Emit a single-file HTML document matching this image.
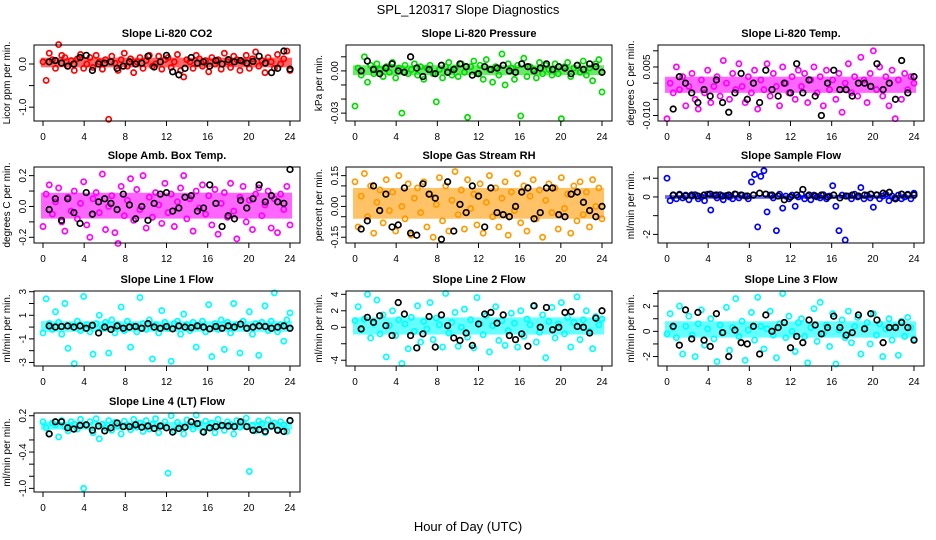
<!DOCTYPE html>
<html><head><meta charset="utf-8"><title>SPL_120317 Slope Diagnostics</title>
<style>
html,body{margin:0;padding:0;background:#fff;}
svg{display:block;font-family:"Liberation Sans",Arial,sans-serif;}
</style></head>
<body>
<svg id="chart" width="936" height="540" viewBox="0 0 936 540" xmlns="http://www.w3.org/2000/svg">
<rect x="0" y="0" width="936" height="540" fill="#fff"/>
<text x="468" y="14" text-anchor="middle" font-size="13">SPL_120317  Slope Diagnostics</text>
<text x="468" y="531" text-anchor="middle" font-size="13">Hour of Day (UTC)</text>
</svg>
<script>
const xTicks=[0,4,8,12,16,20,24];
const co2Vals=[0.05,-0.38,0.25,0.1,-0.1,0.45,0.2,0.15,-0.05,0.08,-0.15,0.12,0.22,-0.1,0.0,0.15,-0.08,0.2,0.05,-0.12,0.1,-1.28,0.18,0.02,-0.15,0.1,0.25,-0.05,0.12,-0.2,0.05,0.15,-0.1,0.08,0.2,-0.05,0.0,0.18,-0.12,0.1,0.15,-0.08,0.05,0.22,-0.15,-0.3,0.1,0.05,-0.1,0.2,0.12,-0.05,0.08,-0.18,0.15,0.0,0.1,-0.12,0.25,0.05,-0.08,0.18,0.1,-0.15,0.05,0.2,-0.1,0.12,0.28,-0.05,0.08,-0.2,0.15,0.05,-0.1,0.22,0.0,0.12,0.3,-0.15];
const co2Black=[0.05,0.08,0.02,-0.05,0.0,0.15,0.2,-0.15,0.0,0.02,0.05,-0.1,-0.05,0.05,0.0,0.02,0.18,-0.07,0.05,0.2,-0.18,-0.25,-0.1,0.15,0.02,0.05,-0.05,0.08,0.0,0.1,0.05,0.08,0.02,0.06,0.18,0.02,-0.2,-0.1,0.3,-0.12];
const presVals=[-0.025,0.002,-0.003,0.01,-0.008,0.004,-0.002,0.005,0.001,-0.004,0.003,-0.001,0.006,-0.005,0.002,-0.03,0.004,-0.002,0.001,0.005,-0.003,0.003,-0.006,0.002,0.004,-0.002,-0.022,0.001,-0.005,0.003,0.006,-0.003,0.002,-0.004,0.005,-0.001,-0.033,0.003,0.007,-0.002,0.004,-0.006,0.008,0.001,-0.008,0.003,-0.003,0.012,-0.01,0.005,0.002,-0.006,0.004,-0.032,0.009,-0.004,0.003,0.001,-0.005,0.006,-0.002,0.004,0.001,-0.003,0.005,-0.002,-0.034,0.003,0.006,-0.004,0.002,0.004,-0.001,0.007,-0.003,0.002,-0.007,0.005,0.008,-0.015];
const presBlack=[0.0,0.007,0.001,-0.002,0.002,0.005,0.0,-0.001,0.01,0.002,-0.004,0.001,-0.002,0.004,-0.001,0.001,0.005,0.003,-0.003,-0.002,0.003,0.001,0.002,0.004,0.0,-0.001,0.005,0.003,0.0,0.002,0.005,0.001,0.003,0.002,-0.002,0.004,0.001,0.005,0.003,-0.001];
const tempVals=[-0.011,0.0,-0.003,0.005,-0.002,0.002,-0.007,-0.001,0.003,-0.005,-0.008,0.001,-0.003,0.004,-0.006,-0.001,0.002,-0.004,0.007,0.0,-0.005,0.003,-0.002,0.006,-0.001,-0.006,0.002,-0.003,0.004,-0.008,0.001,-0.002,0.006,-0.004,0.003,-0.001,-0.007,0.005,0.0,-0.003,0.002,-0.005,0.004,-0.001,0.003,-0.006,0.001,0.005,-0.003,0.002,-0.007,0.004,-0.002,0.001,-0.005,0.003,-0.009,0.0,0.006,-0.003,0.002,-0.004,0.008,0.001,-0.006,0.003,0.01,-0.002,0.005,-0.004,0.002,-0.007,0.004,-0.011,0.001,-0.005,0.003,-0.002,0.002,0.0];
const tempBlack=[-0.008,0.002,0.0,-0.003,-0.006,-0.002,-0.004,0.001,-0.006,-0.009,-0.003,0.003,-0.005,0.0,-0.006,0.004,-0.002,-0.004,0.0,-0.003,0.006,-0.003,0.001,-0.004,-0.01,0.0,0.004,-0.002,-0.002,-0.004,0.0,0.0,-0.001,0.006,-0.002,0.0,-0.005,0.007,-0.003,0.002];
const ambVals=[-0.13,0.08,0.14,-0.05,0.03,0.12,-0.1,-0.16,0.06,-0.03,0.1,-0.08,0.02,0.16,-0.12,-0.2,0.05,0.09,-0.04,0.21,-0.15,0.0,0.07,-0.17,-0.24,0.13,-0.06,0.04,0.18,-0.09,0.11,-0.02,0.2,-0.14,0.06,-0.07,0.09,0.01,-0.11,0.15,-0.04,0.08,-0.13,0.03,0.12,0.2,-0.08,0.05,-0.16,0.1,-0.01,0.14,-0.05,0.07,-0.12,0.11,-0.18,0.02,0.09,-0.07,0.15,-0.03,-0.21,0.06,0.13,-0.1,0.04,-0.15,0.08,0.12,-0.06,0.01,0.1,-0.14,0.05,-0.17,0.08,-0.02,0.13,-0.12];
const ambBlack=[-0.02,0.05,-0.09,0.05,-0.04,-0.11,0.09,-0.05,0.03,0.05,0.02,-0.02,0.08,0.01,-0.08,0.0,-0.09,0.02,0.08,0.09,-0.03,-0.01,0.06,0.07,-0.03,-0.01,0.14,0.02,-0.13,-0.06,-0.08,0.04,-0.01,0.05,0.14,0.03,0.07,0.03,0.02,0.24];
const rhVals=[0.12,-0.1,0.05,0.16,-0.05,0.1,-0.13,0.02,0.08,-0.08,0.13,-0.02,0.07,-0.12,0.15,0.0,-0.06,0.11,-0.14,0.04,0.09,-0.03,0.12,-0.1,0.06,-0.15,0.01,0.14,-0.07,0.1,-0.12,0.03,0.17,-0.04,0.08,-0.11,0.13,-0.01,0.06,-0.09,0.11,-0.13,0.02,0.15,-0.05,0.09,-0.1,0.04,0.12,-0.14,0.07,-0.02,0.16,-0.08,0.1,-0.12,0.05,0.13,-0.06,0.08,-0.15,0.03,0.11,-0.03,0.09,-0.11,0.14,-0.01,0.06,-0.13,0.1,-0.07,0.12,-0.04,0.07,-0.1,0.13,0.0,0.09,-0.06];
const rhBlack=[-0.11,-0.07,0.1,-0.02,0.06,-0.1,-0.09,0.09,-0.13,-0.14,0.11,0.06,0.04,-0.16,0.12,-0.12,0.01,-0.03,0.1,0.05,-0.1,0.09,-0.03,-0.04,-0.05,0.0,0.07,0.09,-0.06,-0.03,0.09,0.09,-0.04,-0.05,0.06,0.07,0.02,-0.02,-0.05,0.0];
const sampVals=[1.0,-0.2,0.1,-0.1,0.15,-0.05,0.1,-0.15,0.05,0.12,-0.1,0.0,-0.2,0.15,-0.7,0.1,-0.05,0.12,-0.15,0.08,0.0,-0.1,0.15,-0.05,0.1,0.05,-0.1,0.8,1.2,-1.6,1.1,1.4,-0.8,0.1,-0.05,-1.8,0.15,-0.6,0.05,-0.1,0.1,-0.5,0.0,0.15,-0.1,0.05,-0.15,0.1,0.0,-0.05,0.12,-0.1,0.05,0.6,-0.5,-1.8,0.1,-2.3,0.05,-0.1,0.15,0.0,0.5,-0.1,0.1,-0.05,-0.55,0.12,-0.1,0.05,0.15,-0.2,0.05,-0.05,0.1,-0.1,0.0,0.15,-0.1,0.2];
const sampBlack=[0.1,0.1,0.05,0.1,0.05,0.1,0.15,0.1,0.05,0.1,0.15,0.1,0.05,0.1,0.2,0.15,0.1,0.05,-0.15,0.0,0.1,0.4,0.1,0.05,0.1,0.0,0.1,-0.05,0.05,0.1,0.05,0.1,0.15,0.1,0.2,0.25,-0.1,0.15,0.1,0.1];
const line1Vals=[-0.5,2.4,0.3,-0.2,1.3,0.4,-0.6,2.0,-1.8,0.1,-3.1,0.5,-0.3,2.6,0.2,-0.4,-2.3,0.3,1.0,-0.1,0.4,-2.2,0.6,-0.5,0.2,1.7,-0.3,0.5,-1.7,0.1,-0.4,2.5,0.3,-0.2,0.6,-2.7,0.2,-0.5,1.4,0.4,-0.1,-2.9,0.3,0.5,-0.6,1.1,0.2,-0.3,0.4,-1.7,0.1,0.5,-0.4,1.9,-2.5,0.3,-0.2,0.6,-1.9,0.4,-0.5,2.0,0.2,-2.2,0.5,-0.1,1.3,-0.6,0.3,-2.4,0.4,1.8,-0.3,0.5,2.9,-0.4,0.2,-1.2,0.6,1.2];
const line1Black=[0.1,0.0,0.05,0.1,0.0,0.1,-0.1,0.15,-0.5,0.0,-0.2,0.1,-0.1,0.0,0.05,-0.1,0.3,0.0,-0.1,0.05,-0.15,0.1,0.0,-0.05,0.1,0.0,-0.15,0.05,-0.1,0.1,0.0,0.25,-0.1,0.0,0.1,0.05,-0.1,0.0,0.1,-0.1];
const line2Vals=[0.8,2.5,-0.3,1.0,4.0,-1.3,0.5,3.3,-0.8,1.5,-3.6,0.2,2.0,-1.0,0.9,-4.4,0.4,-2.6,1.2,-0.5,2.6,-1.8,0.7,-0.2,3.0,-1.5,1.1,0.3,-2.4,4.1,-0.7,0.6,1.8,-2.3,0.0,2.2,-1.2,0.9,-2.5,3.6,0.4,-0.9,1.4,-3.0,0.2,2.5,-1.6,0.8,-2.2,-0.4,1.7,0.5,-2.4,2.0,-1.1,1.0,0.3,2.6,-1.8,-0.6,1.5,-3.7,0.7,2.4,-1.3,0.4,3.0,-0.8,1.2,-2.4,0.6,3.7,-1.5,0.9,2.0,-0.5,-2.6,1.3,0.3,1.0];
const line2Black=[-0.2,1.2,0.6,1.4,0.2,-1.0,3.0,1.6,-1.0,-2.5,-0.8,1.3,-2.4,1.5,0.2,-1.3,-1.6,-0.7,-2.2,0.4,1.6,1.8,0.5,1.5,-1.0,-1.5,-0.8,-2.3,2.6,0.0,2.4,-0.3,0.0,1.8,1.9,0.1,0.0,-0.7,1.1,2.0];
const line3Vals=[-0.2,1.4,0.3,-0.5,2.0,-1.8,0.4,1.2,-0.3,-2.0,0.6,1.7,-1.1,0.2,1.0,-0.6,-2.4,0.5,-0.1,1.9,-1.5,0.3,2.6,-0.4,0.8,-2.3,0.1,1.5,-0.7,2.7,0.4,-1.4,0.2,1.6,-0.3,-2.1,0.6,3.0,-0.5,1.2,0.0,-1.6,0.7,1.0,-0.4,-2.5,0.3,1.8,-0.8,2.3,-0.2,0.5,-1.2,1.4,-2.6,0.1,0.9,-0.5,1.6,-0.9,0.4,1.1,-1.8,0.2,0.7,-1.0,1.4,-0.3,0.6,-2.0,0.2,1.0,-0.7,0.4,-1.9,0.8,-0.4,1.1,0.3,-0.6];
const line3Black=[0.4,-1.1,1.7,-0.6,1.5,-0.7,-1.2,1.4,-0.1,-2.0,0.1,-0.9,-1.0,0.4,-1.8,1.3,0.0,0.3,0.7,-1.3,-0.4,-0.9,0.9,0.5,-0.2,0.3,1.2,0.3,-0.3,-0.1,1.3,0.2,1.4,0.9,-0.9,0.3,0.3,0.7,0.3,-0.7];
const line4Vals=[0.1,0.0,-0.1,0.08,0.05,-0.15,0.12,0.02,-0.05,0.1,0.06,-0.02,0.14,-1.0,0.04,0.1,-0.08,0.15,-0.18,0.06,0.0,0.12,-0.04,0.09,0.03,-0.1,0.11,0.05,-0.03,0.14,0.01,0.08,-0.06,0.12,-0.02,0.06,0.15,-0.08,0.03,0.1,-0.75,0.2,-0.05,0.09,0.02,-0.1,0.13,0.05,-0.02,0.21,0.07,-0.06,0.11,0.0,0.08,-0.08,0.14,0.03,-0.04,0.1,0.06,-0.1,0.12,0.01,0.09,0.16,-0.72,0.04,-0.05,0.11,0.07,-0.08,0.13,0.02,0.08,-0.03,0.1,0.05,-0.06,0.12];
const line4Black=[-0.1,0.1,0.1,0.0,-0.02,0.04,0.05,-0.04,0.03,-0.05,0.0,0.08,0.02,0.02,0.05,0.01,0.03,-0.01,0.03,0.0,-0.07,-0.01,0.01,0.1,0.07,-0.07,0.0,0.02,0.04,0.03,0.02,0.1,0.02,-0.04,-0.03,-0.06,0.03,-0.04,-0.06,0.12];

const NS="http://www.w3.org/2000/svg";
const svg=document.getElementById('chart');
function mk(tag,attrs,parent){const e=document.createElementNS(NS,tag);for(const k in attrs)e.setAttribute(k,attrs[k]);(parent||svg).appendChild(e);return e;}
function quantile(arr,q){const s=arr.slice().sort((a,b)=>a-b);const i=(s.length-1)*q;const lo=Math.floor(i),hi=Math.ceil(i);return s[lo]+(s[hi]-s[lo])*(i-lo);}

const cols=[34,346,658], colW=266;
const panels=[
 {key:'co2',title:'Slope Li-820 CO2',ylab:'Licor ppm per min.',col:0,top:45,bot:121,ymin:-1.32,ymax:0.44,ticks:[[0,'0.0'],[-0.5,''],[-1,'-1.0']],color:'#ff0000',vals:co2Vals,blk:co2Black},
 {key:'pressure',title:'Slope Li-820 Pressure',ylab:'kPa per min.',col:1,top:45,bot:121,ymin:-0.0356,ymax:0.0184,ticks:[[0.01,''],[0,'0.00'],[-0.01,''],[-0.02,''],[-0.03,'-0.03']],color:'#00dd00',vals:presVals,blk:presBlack},
 {key:'temp',title:'Slope Li-820 Temp.',ylab:'degrees C per min.',col:2,top:45,bot:121,ymin:-0.0117,ymax:0.0118,ticks:[[0.01,''],[0.005,'0.005'],[0,''],[-0.005,''],[-0.01,'-0.010']],color:'#ff00ff',vals:tempVals,blk:tempBlack},
 {key:'amb-box-temp',title:'Slope Amb. Box Temp.',ylab:'degrees C per min.',col:0,top:167,bot:243,ymin:-0.237,ymax:0.256,ticks:[[0.2,'0.2'],[0.1,''],[0,'0.0'],[-0.1,''],[-0.2,'-0.2']],color:'#ff00ff',vals:ambVals,blk:ambBlack},
 {key:'gas-rh',title:'Slope Gas Stream RH',ylab:'percent per min.',col:1,top:167,bot:243,ymin:-0.178,ymax:0.192,ticks:[[0.15,'0.15'],[0.1,''],[0.05,''],[0,'0.00'],[-0.05,''],[-0.1,''],[-0.15,'-0.15']],color:'#ff9900',vals:rhVals,blk:rhBlack},
 {key:'sample-flow',title:'Slope Sample Flow',ylab:'ml/min per min.',col:2,top:167,bot:243,ymin:-2.46,ymax:1.6,ticks:[[1,'1'],[0,'0'],[-1,''],[-2,'-2']],color:'#0000ff',vals:sampVals,blk:sampBlack},
 {key:'line1-flow',title:'Slope Line 1 Flow',ylab:'ml/min per min.',col:0,top:291,bot:366,ymin:-3.3,ymax:3.06,ticks:[[3,'3'],[2,''],[1,'1'],[0,''],[-1,'-1'],[-2,''],[-3,'-3']],color:'#00ffff',vals:line1Vals,blk:line1Black},
 {key:'line2-flow',title:'Slope Line 2 Flow',ylab:'ml/min per min.',col:1,top:291,bot:366,ymin:-4.7,ymax:4.4,ticks:[[4,'4'],[2,'2'],[0,'0'],[-2,''],[-4,'-4']],color:'#00ffff',vals:line2Vals,blk:line2Black},
 {key:'line3-flow',title:'Slope Line 3 Flow',ylab:'ml/min per min.',col:2,top:291,bot:366,ymin:-2.75,ymax:3.2,ticks:[[3,''],[2,'2'],[1,''],[0,'0'],[-1,''],[-2,'-2']],color:'#00ffff',vals:line3Vals,blk:line3Black},
 {key:'line4-flow',title:'Slope Line 4 (LT) Flow',ylab:'ml/min per min.',col:0,top:413,bot:492,ymin:-1.06,ymax:0.245,ticks:[[0.2,'0.2'],[0,''],[-0.2,''],[-0.4,'-0.4'],[-0.6,''],[-0.8,''],[-1.0,'-1.0']],color:'#00ffff',vals:line4Vals,blk:line4Black}
];

panels.forEach(p=>{
  const L=cols[p.col], R=L+colW;
  const xS=h=>L+9+(h/24)*247;
  const yS=v=>p.bot-(v-p.ymin)/(p.ymax-p.ymin)*(p.bot-p.top);
  const g=mk('g',{});
  
  
  const t=mk('text',{x:(L+R)/2,y:p.top-8,'text-anchor':'middle','font-size':'11','font-weight':'bold'},g);
  t.textContent=p.title;
  
  
  const qHi=quantile(p.vals,0.72), qLo=quantile(p.vals,0.28);
  const band=mk('rect',{x:xS(0)-2,y:yS(qHi),width:xS(24)-xS(0)+4,height:Math.max(1,yS(qLo)-yS(qHi)),fill:p.color,opacity:0.6},g);
  
  
  const n=p.vals.length;
  p.vals.forEach((v,i)=>{
    const c=mk('circle',{cx:xS(i*24/(n-1)),cy:yS(v),r:2.6,fill:'none',stroke:p.color,'stroke-width':1.7},g);
    
    
  });
  p.blk.forEach((v,i)=>{
    const c=mk('circle',{cx:xS(0.6+i*0.6),cy:yS(v),r:2.8,fill:'none',stroke:'#000','stroke-width':1.7},g);
    
    
  });
  const box=mk('rect',{x:L,y:p.top,width:colW,height:p.bot-p.top,fill:'none',stroke:'#000','stroke-width':1},g);
  
  
  mk('line',{x1:xS(0),x2:xS(24),y1:p.bot,y2:p.bot,stroke:'#000'},g);
  xTicks.forEach(h=>{
    mk('line',{x1:xS(h),x2:xS(h),y1:p.bot,y2:p.bot+5,stroke:'#000'},g);
    const tl=mk('text',{x:xS(h),y:p.bot+19,'text-anchor':'middle','font-size':'10'},g);
    tl.textContent=h;
    
    
  });
  p.ticks.forEach(([v,lab])=>{
    const y=yS(v);
    mk('line',{x1:L-5,x2:L,y1:y,y2:y,stroke:'#000'},g);
    if(lab){
      const tl=mk('text',{x:L-8,y:y,'text-anchor':'middle','font-size':'10',transform:`rotate(-90 ${L-8} ${y})`},g);
      tl.textContent=lab;
      
      
    }
  });
  const yl=mk('text',{x:L-24,y:(p.top+p.bot)/2,'text-anchor':'middle','font-size':'10',transform:`rotate(-90 ${L-24} ${(p.top+p.bot)/2})`},g);
  yl.textContent=p.ylab;
  
  
});
</script>
</body></html>
